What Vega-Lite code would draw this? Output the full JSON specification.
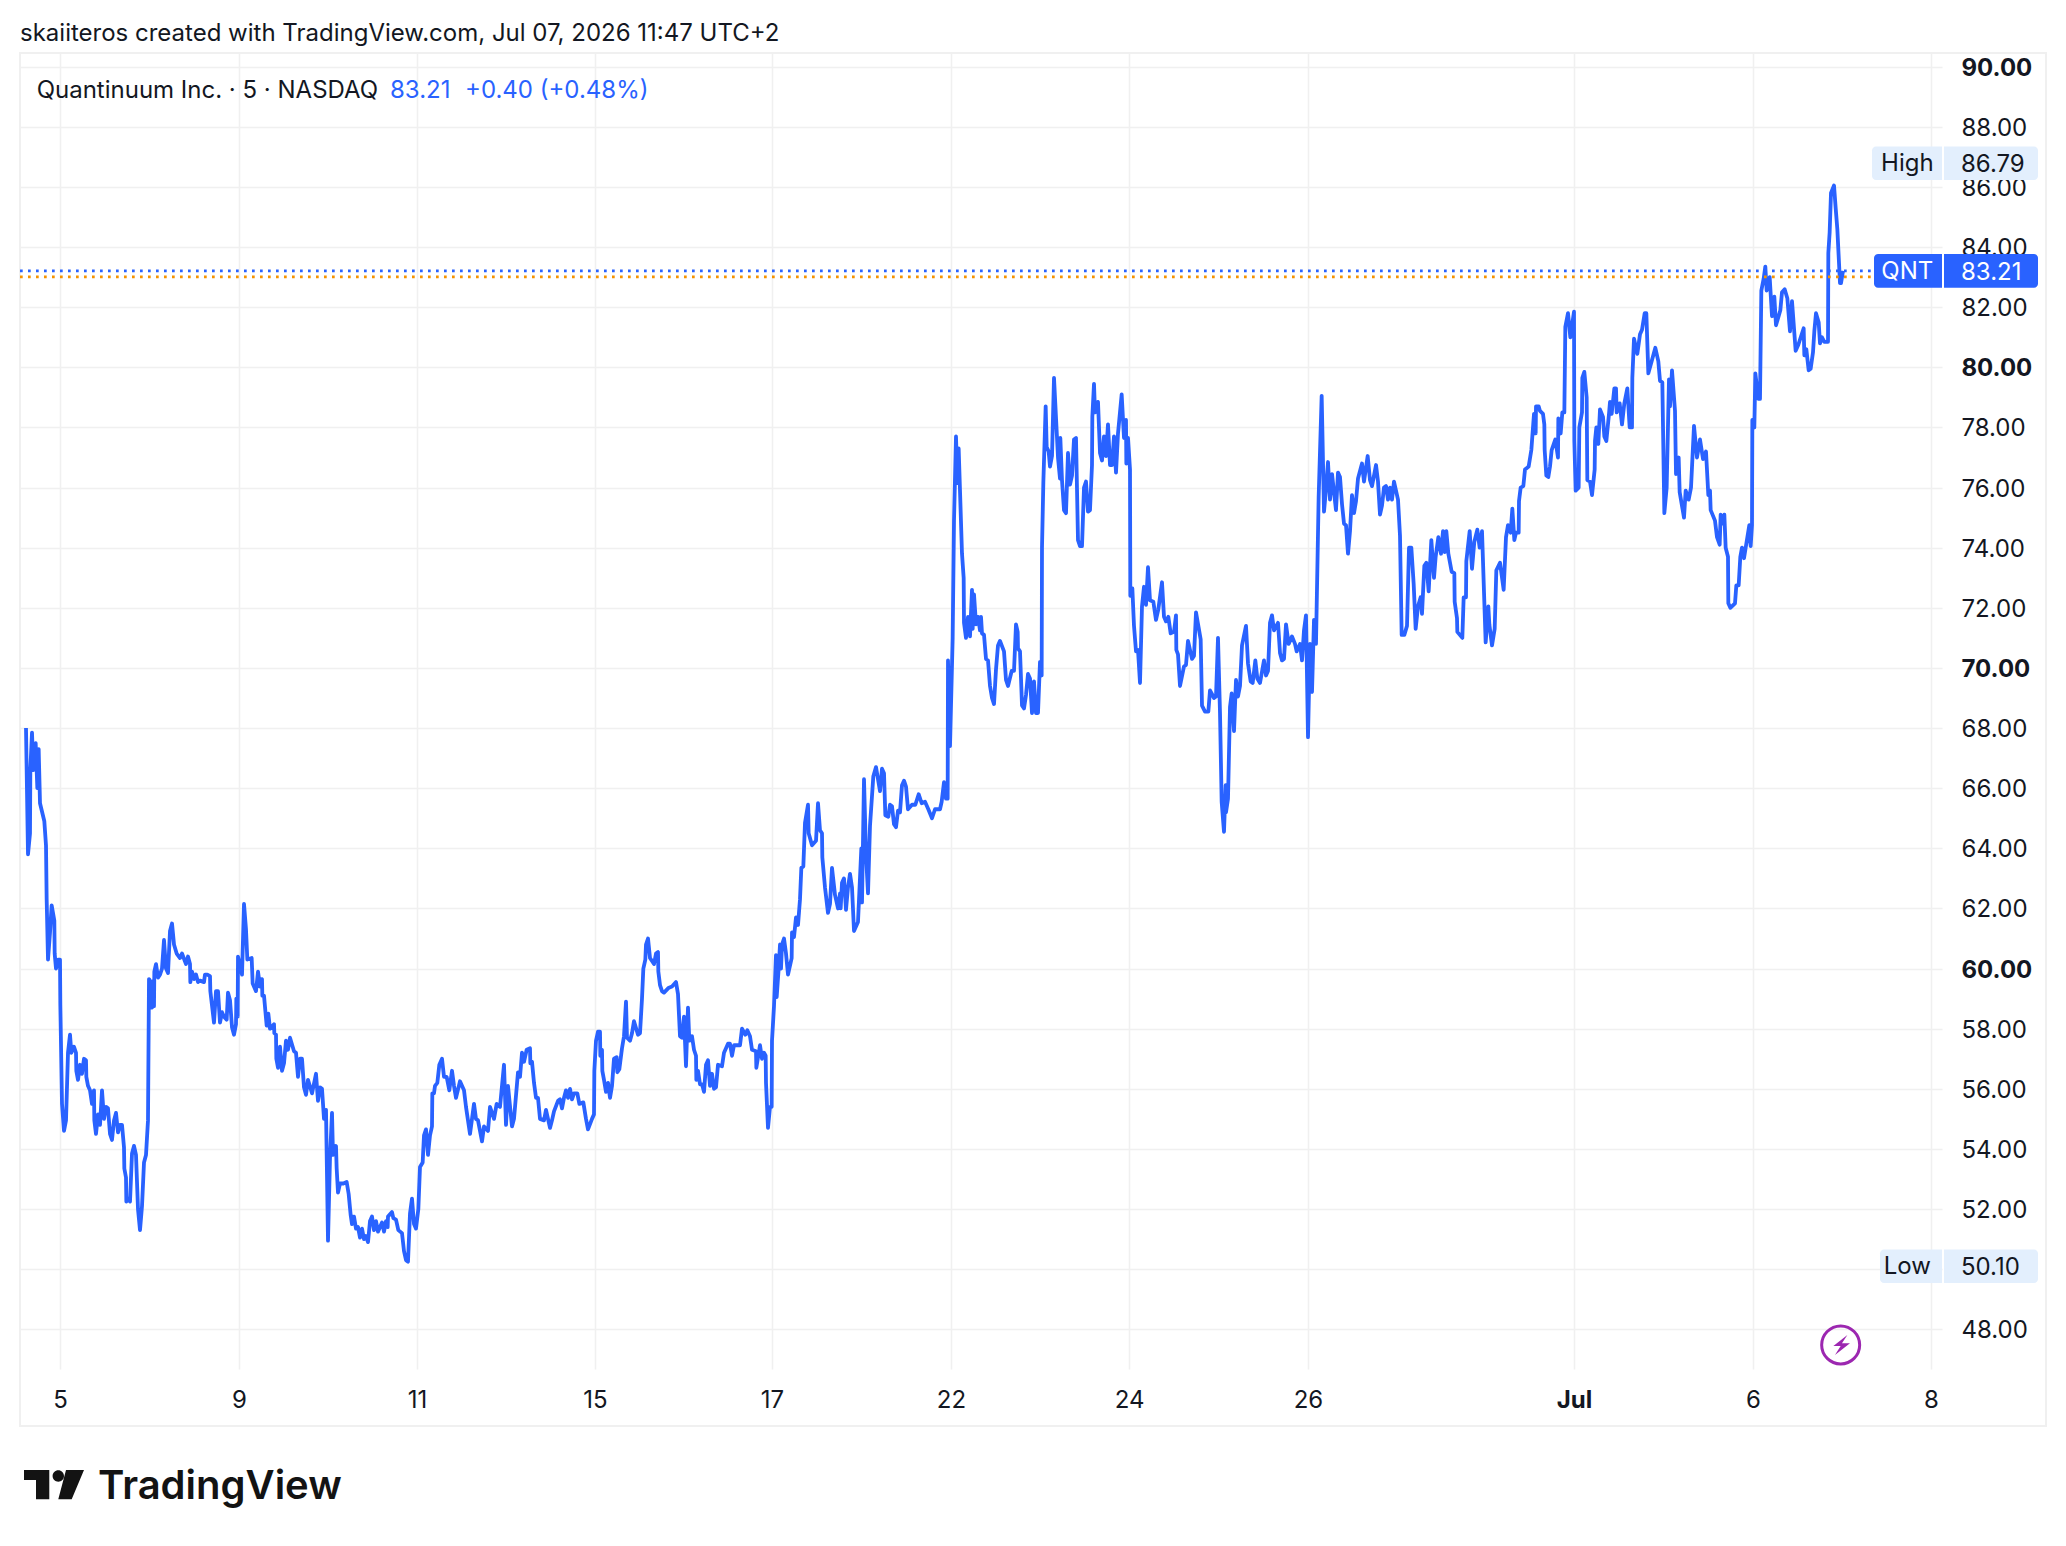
{
  "$schema": "https://vega.github.io/schema/vega-lite/v6.json",
  "width": 1922,
  "height": 1316,
  "autosize": {"type": "none"},
  "padding": {"left": 20, "top": 53, "right": 124, "bottom": 177},
  "background": "#ffffff",
  "view": {"stroke": null},
  "title": {
    "text": "skaiiteros created with TradingView.com, Jul 07, 2026 11:47 UTC+2",
    "anchor": "start",
    "frame": "group",
    "offset": 6,
    "font": "Inter",
    "fontSize": 24,
    "fontWeight": "normal",
    "color": "#131722"
  },
  "datasets": {
    "tags": [
      {"tag": "High", "price": 86.79},
      {"tag": "QNT", "price": 83.21},
      {"tag": "Low", "price": 50.10}
    ],
    "levels": [
      {"level": "last", "price": 83.21},
      {"level": "prev", "price": 83.01}
    ],
    "prices": [
      {"t":78,"price":68},{"t":84,"price":63.8},{"t":90,"price":64.5},{"t":91,"price":66.6},{"t":96,"price":67.85},{"t":100,"price":66.6},{"t":107,"price":67.5},{"t":112,"price":66},{"t":116,"price":67.3},{"t":120,"price":65.5},{"t":133,"price":64.9},{"t":138,"price":64.1},{"t":140,"price":62.3},{"t":144,"price":60.3},{"t":150,"price":61.2},{"t":155,"price":62.1},{"t":163,"price":61.6},{"t":164,"price":60.5},{"t":168,"price":60},{"t":175,"price":60.3},{"t":180,"price":60.3},{"t":181,"price":58.8},{"t":186,"price":55.5},{"t":192,"price":54.6},{"t":198,"price":54.95},{"t":204,"price":57.2},{"t":210,"price":57.8},{"t":214,"price":57.2},{"t":222,"price":57.4},{"t":228,"price":57.2},{"t":229,"price":56.6},{"t":234,"price":56.3},{"t":240,"price":56.8},{"t":246,"price":56.5},{"t":252,"price":57},{"t":258,"price":56.95},{"t":259,"price":56.4},{"t":264,"price":56.1},{"t":270,"price":55.95},{"t":276,"price":55.5},{"t":282,"price":55.95},{"t":283,"price":54.95},{"t":288,"price":54.5},{"t":294,"price":55.15},{"t":300,"price":54.8},{"t":306,"price":55.95},{"t":312,"price":55},{"t":318,"price":55.4},{"t":324,"price":55.35},{"t":330,"price":54.5},{"t":336,"price":54.3},{"t":342,"price":54.95},{"t":348,"price":55.2},{"t":354,"price":54.55},{"t":360,"price":54.8},{"t":366,"price":54.8},{"t":372,"price":54.05},{"t":373,"price":53.35},{"t":378,"price":53.05},{"t":379,"price":52.25},{"t":384,"price":52.35},{"t":390,"price":52.25},{"t":396,"price":53.85},{"t":402,"price":54.1},{"t":408,"price":53.8},{"t":414,"price":52},{"t":420,"price":51.3},{"t":426,"price":52.1},{"t":432,"price":53.55},{"t":438,"price":53.8},{"t":444,"price":54.95},{"t":447,"price":59.65},{"t":450,"price":59.6},{"t":456,"price":58.7},{"t":461,"price":59.6},{"t":462,"price":58.75},{"t":463,"price":59.9},{"t":468,"price":60.15},{"t":474,"price":59.7},{"t":480,"price":59.8},{"t":486,"price":60},{"t":492,"price":60.95},{"t":498,"price":60},{"t":504,"price":59.85},{"t":510,"price":61.25},{"t":516,"price":61.5},{"t":522,"price":60.8},{"t":530,"price":60.5},{"t":540,"price":60.35},{"t":546,"price":60.5},{"t":558,"price":60.15},{"t":564,"price":60.4},{"t":570,"price":60.15},{"t":571,"price":59.55},{"t":576,"price":59.9},{"t":582,"price":59.65},{"t":588,"price":59.8},{"t":594,"price":59.55},{"t":600,"price":59.6},{"t":612,"price":59.55},{"t":615,"price":59.8},{"t":622,"price":59.8},{"t":630,"price":59.75},{"t":631,"price":59.25},{"t":642,"price":58.2},{"t":648,"price":59.25},{"t":654,"price":59.25},{"t":660,"price":58.2},{"t":666,"price":58.55},{"t":672,"price":58.4},{"t":680,"price":58.3},{"t":684,"price":59.2},{"t":690,"price":58.95},{"t":696,"price":58.05},{"t":702,"price":57.8},{"t":708,"price":58.15},{"t":709,"price":59},{"t":713,"price":58.4},{"t":714,"price":60.4},{"t":726,"price":59.8},{"t":732,"price":62.15},{"t":738,"price":61.3},{"t":742,"price":60.3},{"t":755,"price":60.35},{"t":758,"price":59.5},{"t":768,"price":59.25},{"t":774,"price":59.9},{"t":780,"price":59.4},{"t":786,"price":59.65},{"t":787,"price":59.1},{"t":792,"price":59.1},{"t":800,"price":58.1},{"t":805,"price":58.5},{"t":810,"price":58},{"t":822,"price":58.15},{"t":823,"price":57.85},{"t":828,"price":57.8},{"t":829,"price":57},{"t":834,"price":56.7},{"t":840,"price":57.4},{"t":846,"price":56.6},{"t":852,"price":56.85},{"t":858,"price":57.6},{"t":864,"price":57.3},{"t":870,"price":57.7},{"t":882,"price":57.25},{"t":888,"price":57.2},{"t":894,"price":56.4},{"t":900,"price":57},{"t":906,"price":57},{"t":912,"price":56.05},{"t":918,"price":55.8},{"t":924,"price":56.3},{"t":936,"price":55.85},{"t":948,"price":56.5},{"t":954,"price":55.6},{"t":960,"price":56.05},{"t":966,"price":56},{"t":972,"price":55},{"t":978,"price":55.3},{"t":984,"price":50.95},{"t":990,"price":53.7},{"t":996,"price":55.2},{"t":999,"price":53.8},{"t":1008,"price":54.1},{"t":1010,"price":53.35},{"t":1014,"price":52.55},{"t":1020,"price":52.85},{"t":1030,"price":52.85},{"t":1040,"price":52.9},{"t":1046,"price":52.5},{"t":1052,"price":51.8},{"t":1056,"price":51.5},{"t":1062,"price":51.75},{"t":1068,"price":51.35},{"t":1074,"price":51.4},{"t":1080,"price":51.05},{"t":1086,"price":51.35},{"t":1092,"price":51},{"t":1098,"price":51.1},{"t":1104,"price":50.9},{"t":1110,"price":51.6},{"t":1116,"price":51.75},{"t":1122,"price":51.3},{"t":1128,"price":51.6},{"t":1134,"price":51.25},{"t":1146,"price":51.55},{"t":1152,"price":51.25},{"t":1158,"price":51.6},{"t":1163,"price":51.4},{"t":1164,"price":51.75},{"t":1176,"price":51.9},{"t":1180,"price":51.7},{"t":1188,"price":51.65},{"t":1195,"price":51.3},{"t":1206,"price":51.2},{"t":1212,"price":50.6},{"t":1218,"price":50.3},{"t":1224,"price":50.25},{"t":1230,"price":51.85},{"t":1236,"price":52.35},{"t":1242,"price":51.5},{"t":1248,"price":51.35},{"t":1255,"price":52},{"t":1260,"price":53.4},{"t":1268,"price":53.55},{"t":1272,"price":54.45},{"t":1278,"price":54.65},{"t":1284,"price":53.8},{"t":1290,"price":54.45},{"t":1296,"price":54.75},{"t":1297,"price":55.85},{"t":1302,"price":55.85},{"t":1305,"price":56.1},{"t":1312,"price":56.2},{"t":1318,"price":56.8},{"t":1326,"price":57},{"t":1332,"price":56.4},{"t":1340,"price":56.4},{"t":1348,"price":55.95},{"t":1356,"price":56.6},{"t":1362,"price":56.1},{"t":1368,"price":55.7},{"t":1380,"price":56.25},{"t":1392,"price":55.95},{"t":1398,"price":55.4},{"t":1410,"price":54.5},{"t":1422,"price":55.5},{"t":1428,"price":55},{"t":1434,"price":54.95},{"t":1446,"price":54.25},{"t":1452,"price":54.75},{"t":1464,"price":54.6},{"t":1470,"price":55.4},{"t":1482,"price":55},{"t":1490,"price":55.5},{"t":1500,"price":55.4},
      {"t":1512,"price":56.8},{"t":1518,"price":54.8},{"t":1524,"price":56.1},{"t":1536,"price":54.75},{"t":1542,"price":55},{"t":1554,"price":56.55},{"t":1560,"price":56.4},{"t":1566,"price":57.2},{"t":1572,"price":56.9},{"t":1580,"price":57.3},{"t":1590,"price":57.35},{"t":1591,"price":56.85},{"t":1596,"price":56.9},{"t":1602,"price":56.2},{"t":1608,"price":55.7},{"t":1614,"price":55.7},{"t":1620,"price":55},{"t":1632,"price":54.95},{"t":1638,"price":55.3},{"t":1644,"price":55},{"t":1650,"price":54.7},{"t":1656,"price":54.95},{"t":1662,"price":55.25},{"t":1674,"price":55.6},{"t":1680,"price":55.65},{"t":1686,"price":55.35},{"t":1692,"price":55.7},{"t":1698,"price":55.95},{"t":1704,"price":55.7},{"t":1710,"price":56},{"t":1716,"price":55.65},{"t":1722,"price":55.85},{"t":1732,"price":55.85},{"t":1738,"price":55.5},{"t":1750,"price":55.55},{"t":1758,"price":55},{"t":1764,"price":54.65},{"t":1776,"price":55},{"t":1782,"price":55.15},{"t":1783,"price":56.6},{"t":1788,"price":57.6},{"t":1794,"price":57.9},{"t":1800,"price":57.9},{"t":1801,"price":57.1},{"t":1806,"price":57.3},{"t":1807,"price":56.6},{"t":1812,"price":56.3},{"t":1818,"price":55.9},{"t":1824,"price":56.2},{"t":1830,"price":55.7},{"t":1836,"price":56.1},{"t":1842,"price":57},{"t":1850,"price":57.05},{"t":1852,"price":56.55},{"t":1858,"price":56.65},{"t":1866,"price":57.35},{"t":1872,"price":57.75},{"t":1878,"price":58.9},{"t":1881,"price":57.7},{"t":1890,"price":57.6},{"t":1896,"price":57.85},{"t":1902,"price":58.25},{"t":1914,"price":57.8},{"t":1920,"price":57.85},{"t":1926,"price":59},{"t":1930,"price":60},{"t":1936,"price":60.3},{"t":1938,"price":60.8},{"t":1944,"price":61},{"t":1950,"price":60.35},{"t":1962,"price":60.15},{"t":1968,"price":60.5},{"t":1974,"price":60.55},{"t":1975,"price":59.9},{"t":1980,"price":59.45},{"t":1986,"price":59.25},{"t":1992,"price":59.2},{"t":2005,"price":59.35},{"t":2016,"price":59.4},{"t":2028,"price":59.55},{"t":2034,"price":59.15},{"t":2040,"price":57.75},{"t":2046,"price":57.7},{"t":2052,"price":58.4},{"t":2058,"price":56.75},{"t":2064,"price":58.7},{"t":2068,"price":57.6},{"t":2076,"price":57.75},{"t":2082,"price":57.3},{"t":2088,"price":57.1},{"t":2089,"price":56.3},{"t":2094,"price":56.6},{"t":2100,"price":56.15},{"t":2106,"price":56.15},{"t":2112,"price":55.9},{"t":2118,"price":56.8},{"t":2124,"price":56.95},{"t":2130,"price":56.1},{"t":2136,"price":56.5},{"t":2142,"price":56},{"t":2148,"price":56.05},{"t":2154,"price":56.8},{"t":2166,"price":56.75},{"t":2172,"price":57.2},{"t":2184,"price":57.5},{"t":2190,"price":57.5},{"t":2196,"price":57.1},{"t":2202,"price":57.45},{"t":2220,"price":57.45},{"t":2226,"price":58},{"t":2236,"price":57.8},{"t":2242,"price":57.95},{"t":2250,"price":57.75},{"t":2256,"price":57.3},{"t":2268,"price":57.25},{"t":2269,"price":56.7},{"t":2280,"price":57.45},{"t":2286,"price":57},{"t":2292,"price":57.2},{"t":2297,"price":57.1},{"t":2298,"price":56.2},{"t":2304,"price":54.7},{"t":2310,"price":55.4},{"t":2315,"price":55.4},{"t":2316,"price":57.6},{"t":2322,"price":58.75},{"t":2328,"price":60.45},{"t":2330,"price":59.05},{"t":2336,"price":60},{"t":2340,"price":60.8},{"t":2343,"price":60},{"t":2346,"price":60.8},{"t":2352,"price":61},{"t":2358,"price":60.5},{"t":2364,"price":59.8},{"t":2375,"price":60.35},{"t":2376,"price":61.2},{"t":2382,"price":61.05},{"t":2388,"price":61.7},{"t":2394,"price":61.45},{"t":2400,"price":62.3},{"t":2404,"price":63.35},{"t":2410,"price":63.4},{"t":2415,"price":64.85},{"t":2424,"price":65.45},{"t":2426,"price":64.5},{"t":2436,"price":64.1},{"t":2448,"price":64.25},{"t":2454,"price":65.5},{"t":2460,"price":64.6},{"t":2466,"price":64.5},{"t":2467,"price":63.7},{"t":2475,"price":62.7},{"t":2484,"price":61.85},{"t":2490,"price":62.15},{"t":2496,"price":63.35},{"t":2505,"price":62.45},{"t":2514,"price":62},{"t":2520,"price":62.5},{"t":2522,"price":62},{"t":2526,"price":62.85},{"t":2532,"price":63},{"t":2538,"price":61.95},{"t":2544,"price":62.7},{"t":2550,"price":63.15},{"t":2556,"price":62.7},{"t":2562,"price":61.25},{"t":2574,"price":61.55},{"t":2584,"price":64},{"t":2586,"price":62.2},{"t":2592,"price":66.3},{"t":2598,"price":63.8},{"t":2604,"price":62.5},{"t":2610,"price":64.75},{"t":2620,"price":66.4},{"t":2628,"price":66.7},{"t":2640,"price":65.9},{"t":2646,"price":66.65},{"t":2652,"price":66.5},{"t":2656,"price":65.1},{"t":2665,"price":65.05},{"t":2670,"price":65.45},{"t":2676,"price":65.4},{"t":2682,"price":64.8},{"t":2688,"price":64.7},{"t":2694,"price":65.25},{"t":2700,"price":65.2},{"t":2706,"price":66.1},{"t":2712,"price":66.25},{"t":2718,"price":66.05},{"t":2724,"price":65.3},{"t":2736,"price":65.45},{"t":2746,"price":65.45},{"t":2756,"price":65.8},{"t":2765,"price":65.5},{"t":2775,"price":65.55},{"t":2785,"price":65.3},{"t":2796,"price":65},{"t":2805,"price":65.3},{"t":2820,"price":65.3},{"t":2825,"price":65.55},{"t":2832,"price":66.2},
      {"t":2838,"price":65.65},{"t":2843,"price":65.65},{"t":2844,"price":70.25},{"t":2850,"price":67.4},{"t":2858,"price":71},{"t":2862,"price":74.9},{"t":2868,"price":77.7},{"t":2872,"price":76.15},{"t":2876,"price":77.3},{"t":2886,"price":73.8},{"t":2891,"price":73},{"t":2892,"price":71.5},{"t":2898,"price":71},{"t":2904,"price":71.7},{"t":2910,"price":71.05},{"t":2916,"price":72.6},{"t":2918,"price":71.3},{"t":2922,"price":72.45},{"t":2928,"price":71.45},{"t":2934,"price":71.7},{"t":2940,"price":71.25},{"t":2943,"price":71.7},{"t":2946,"price":71.15},{"t":2952,"price":71.1},{"t":2958,"price":70.3},{"t":2964,"price":70.25},{"t":2970,"price":69.4},{"t":2976,"price":69},{"t":2982,"price":68.8},{"t":2988,"price":69.95},{"t":2994,"price":70.75},{"t":3000,"price":70.9},{"t":3012,"price":70.55},{"t":3018,"price":69.6},{"t":3024,"price":69.4},{"t":3035,"price":69.9},{"t":3042,"price":69.9},{"t":3048,"price":71.45},{"t":3053,"price":71.2},{"t":3054,"price":70.65},{"t":3060,"price":70.55},{"t":3066,"price":68.75},{"t":3072,"price":68.65},{"t":3078,"price":69.1},{"t":3084,"price":69.8},{"t":3090,"price":69.65},{"t":3096,"price":68.5},{"t":3102,"price":69.55},{"t":3108,"price":68.5},{"t":3114,"price":68.5},{"t":3120,"price":70.2},{"t":3125,"price":69.75},{"t":3126,"price":74},{"t":3130,"price":76.15},{"t":3137,"price":78.7},{"t":3140,"price":77.35},{"t":3146,"price":77.2},{"t":3150,"price":76.7},{"t":3156,"price":77.05},{"t":3162,"price":79.65},{"t":3174,"price":77},{"t":3180,"price":76.3},{"t":3181,"price":77.65},{"t":3186,"price":76.25},{"t":3192,"price":75.25},{"t":3198,"price":75.15},{"t":3204,"price":77.15},{"t":3210,"price":76.1},{"t":3216,"price":76.4},{"t":3222,"price":77.6},{"t":3228,"price":77.65},{"t":3234,"price":74.25},{"t":3240,"price":74.05},{"t":3246,"price":74.05},{"t":3252,"price":76},{"t":3258,"price":76.2},{"t":3264,"price":75.2},{"t":3270,"price":75.25},{"t":3276,"price":76.75},{"t":3277,"price":78.35},{"t":3282,"price":79.45},{"t":3285,"price":78.5},{"t":3294,"price":78.85},{"t":3300,"price":77.15},{"t":3306,"price":76.9},{"t":3312,"price":77.7},{"t":3318,"price":77.05},{"t":3324,"price":78.1},{"t":3330,"price":76.75},{"t":3336,"price":76.75},{"t":3342,"price":77.7},{"t":3348,"price":76.5},{"t":3354,"price":77.8},{"t":3365,"price":79.1},{"t":3372,"price":77.65},{"t":3378,"price":78.25},{"t":3379,"price":76.8},{"t":3384,"price":77.65},{"t":3390,"price":76.6},{"t":3391,"price":72.4},{"t":3397,"price":72.65},{"t":3402,"price":71.4},{"t":3408,"price":70.55},{"t":3414,"price":70.6},{"t":3420,"price":69.5},{"t":3426,"price":72.05},{"t":3432,"price":72.7},{"t":3438,"price":72.1},{"t":3444,"price":73.35},{"t":3450,"price":72.25},{"t":3460,"price":72.2},{"t":3468,"price":71.6},{"t":3475,"price":71.95},{"t":3486,"price":72.85},{"t":3492,"price":71.7},{"t":3498,"price":71.55},{"t":3505,"price":71.7},{"t":3512,"price":71.15},{"t":3522,"price":71.2},{"t":3528,"price":71.75},{"t":3529,"price":70.6},{"t":3534,"price":70.45},{"t":3540,"price":69.4},{"t":3552,"price":70.05},{"t":3558,"price":70.1},{"t":3564,"price":70.9},{"t":3576,"price":70.3},{"t":3582,"price":70.4},{"t":3588,"price":71.85},{"t":3595,"price":71.4},{"t":3602,"price":70.95},{"t":3606,"price":68.75},{"t":3615,"price":68.55},{"t":3625,"price":68.55},{"t":3630,"price":69.25},{"t":3642,"price":69},{"t":3648,"price":69.05},{"t":3654,"price":71},{"t":3660,"price":68.5},{"t":3665,"price":65.55},{"t":3672,"price":64.55},{"t":3677,"price":66.1},{"t":3678,"price":65.2},{"t":3684,"price":65.65},{"t":3690,"price":68.7},{"t":3695,"price":69.15},{"t":3702,"price":67.9},{"t":3708,"price":69.6},{"t":3714,"price":69.05},{"t":3720,"price":69.4},{"t":3726,"price":70.75},{"t":3738,"price":71.4},{"t":3744,"price":70.15},{"t":3752,"price":69.55},{"t":3758,"price":69.5},{"t":3766,"price":70.25},{"t":3772,"price":69.65},{"t":3780,"price":69.5},{"t":3792,"price":70.25},{"t":3798,"price":69.75},{"t":3804,"price":69.9},{"t":3810,"price":71.5},{"t":3816,"price":71.75},{"t":3822,"price":71.25},{"t":3834,"price":71.5},{"t":3840,"price":70.5},{"t":3846,"price":70.25},{"t":3852,"price":70.3},{"t":3858,"price":71.45},{"t":3866,"price":70.8},{"t":3876,"price":71.05},{"t":3885,"price":70.8},{"t":3890,"price":70.55},{"t":3900,"price":70.8},{"t":3906,"price":70.25},{"t":3912,"price":71.25},{"t":3918,"price":71.75},{"t":3924,"price":67.7},{"t":3930,"price":70.8},{"t":3936,"price":69.2},{"t":3942,"price":71.6},{"t":3948,"price":70.8},{"t":3956,"price":75.7},{"t":3965,"price":79.05},{"t":3972,"price":75.2},{"t":3978,"price":75.95},{"t":3984,"price":76.85},{"t":3990,"price":75.6},{"t":3996,"price":76.45},{"t":4008,"price":75.25},{"t":4014,"price":76.5},{"t":4020,"price":76.35},{"t":4026,"price":75.45},{"t":4032,"price":74.8},{"t":4038,"price":74.75},{"t":4044,"price":73.8},{"t":4050,"price":74.55},{"t":4056,"price":75.75},{"t":4062,"price":75.15},{"t":4068,"price":75.55},{"t":4074,"price":76.3},{"t":4086,"price":76.8},{"t":4092,"price":76.2},{"t":4103,"price":77.05},{"t":4110,"price":76.25},{"t":4116,"price":76.05},{"t":4128,"price":76.75},{"t":4134,"price":76.2},{"t":4140,"price":75.1},{"t":4146,"price":75.4},{"t":4152,"price":76},{"t":4158,"price":76.05},{"t":4164,"price":75.6},{"t":4170,"price":76},{"t":4176,"price":75.6},{"t":4182,"price":76.2},{"t":4194,"price":75.6},{"t":4200,"price":74.4},
      {"t":4205,"price":71.1},{"t":4213,"price":71.1},{"t":4221,"price":71.4},{"t":4227,"price":74},{"t":4234,"price":74},{"t":4241,"price":72.8},{"t":4247,"price":71.3},{"t":4254,"price":72.05},{"t":4262,"price":72.35},{"t":4266,"price":71.8},{"t":4273,"price":73.4},{"t":4279,"price":73.5},{"t":4286,"price":72.55},{"t":4294,"price":74.25},{"t":4302,"price":73},{"t":4307,"price":73.7},{"t":4315,"price":74.35},{"t":4323,"price":73.8},{"t":4329,"price":74.55},{"t":4334,"price":73.85},{"t":4339,"price":74.55},{"t":4345,"price":73.8},{"t":4355,"price":73.2},{"t":4363,"price":73.15},{"t":4364,"price":72.2},{"t":4371,"price":71.65},{"t":4372,"price":71.2},{"t":4387,"price":71},{"t":4391,"price":72.35},{"t":4398,"price":72.35},{"t":4399,"price":73.55},{"t":4409,"price":74.55},{"t":4416,"price":73.3},{"t":4423,"price":74.2},{"t":4432,"price":74.6},{"t":4439,"price":74},{"t":4446,"price":74.55},{"t":4457,"price":70.85},{"t":4465,"price":72.05},{"t":4468,"price":71.45},{"t":4476,"price":70.75},{"t":4484,"price":71.3},{"t":4489,"price":73.25},{"t":4500,"price":73.5},{"t":4511,"price":72.6},{"t":4518,"price":74.35},{"t":4524,"price":74.75},{"t":4532,"price":74.5},{"t":4537,"price":75.3},{"t":4543,"price":74.25},{"t":4548,"price":74.5},{"t":4556,"price":74.5},{"t":4557,"price":75.55},{"t":4562,"price":76},{"t":4570,"price":76.05},{"t":4575,"price":76.6},{"t":4586,"price":76.7},{"t":4594,"price":77.25},{"t":4602,"price":78.45},{"t":4607,"price":77.8},{"t":4608,"price":78.7},{"t":4616,"price":78.7},{"t":4620,"price":78.55},{"t":4629,"price":78.45},{"t":4633,"price":78.1},{"t":4634,"price":77.25},{"t":4639,"price":76.4},{"t":4645,"price":76.35},{"t":4650,"price":76.7},{"t":4655,"price":77.25},{"t":4666,"price":77.6},{"t":4674,"price":77},{"t":4675,"price":78.3},{"t":4682,"price":77.8},{"t":4687,"price":78.5},{"t":4693,"price":78.5},{"t":4696,"price":81.35},{"t":4704,"price":81.8},{"t":4711,"price":81},{"t":4722,"price":81.85},{"t":4723,"price":77.55},{"t":4727,"price":75.9},{"t":4736,"price":76},{"t":4738,"price":78},{"t":4746,"price":78.5},{"t":4747,"price":79.65},{"t":4753,"price":79.85},{"t":4760,"price":79},{"t":4762,"price":76.25},{"t":4770,"price":76.2},{"t":4776,"price":75.75},{"t":4784,"price":76.6},{"t":4785,"price":77.55},{"t":4789,"price":78},{"t":4795,"price":77.45},{"t":4800,"price":78.6},{"t":4809,"price":78.35},{"t":4813,"price":77.7},{"t":4819,"price":77.55},{"t":4827,"price":78.45},{"t":4830,"price":78.85},{"t":4835,"price":78.45},{"t":4843,"price":79.3},{"t":4848,"price":79.3},{"t":4850,"price":78.5},{"t":4859,"price":78.8},{"t":4866,"price":78.1},{"t":4873,"price":78.8},{"t":4882,"price":79.3},{"t":4889,"price":78},{"t":4896,"price":78},{"t":4897,"price":79.65},{"t":4902,"price":80.95},{"t":4912,"price":80.45},{"t":4920,"price":81.1},{"t":4926,"price":81.25},{"t":4934,"price":81.8},{"t":4939,"price":81.8},{"t":4945,"price":79.8},{"t":4955,"price":80.2},{"t":4966,"price":80.65},{"t":4975,"price":80.2},{"t":4980,"price":79.55},{"t":4987,"price":79.5},{"t":4993,"price":75.15},{"t":5000,"price":76},{"t":5007,"price":79.6},{"t":5010,"price":78.7},{"t":5016,"price":79.9},{"t":5025,"price":78.55},{"t":5028,"price":76.45},{"t":5036,"price":77},{"t":5039,"price":75.85},{"t":5052,"price":75},{"t":5057,"price":75.9},{"t":5066,"price":75.6},{"t":5073,"price":76},{"t":5082,"price":78.05},{"t":5091,"price":77},{"t":5100,"price":77.6},{"t":5109,"price":76.95},{"t":5118,"price":77.2},{"t":5125,"price":75.75},{"t":5130,"price":75.9},{"t":5132,"price":75.25},{"t":5145,"price":74.9},{"t":5151,"price":74.35},{"t":5159,"price":74.1},{"t":5162,"price":75.1},{"t":5166,"price":74.8},{"t":5173,"price":75.1},{"t":5177,"price":74},{"t":5184,"price":73.7},{"t":5185,"price":72.15},{"t":5191,"price":72},{"t":5205,"price":72.15},{"t":5209,"price":72.75},{"t":5216,"price":72.75},{"t":5221,"price":73.7},{"t":5226,"price":74},{"t":5232,"price":73.65},{"t":5237,"price":74},{"t":5248,"price":74.75},{"t":5252,"price":74.05},{"t":5256,"price":74.75},{"t":5257,"price":78.25},{"t":5263,"price":78},{"t":5266,"price":79.8},{"t":5275,"price":78.95},{"t":5280,"price":78.95},{"t":5284,"price":82.55},{"t":5291,"price":82.95},{"t":5296,"price":83.35},{"t":5300,"price":82.55},{"t":5309,"price":83},{"t":5316,"price":81.7},{"t":5323,"price":82.35},{"t":5328,"price":81.4},{"t":5341,"price":81.9},{"t":5346,"price":82.5},{"t":5354,"price":82.6},{"t":5362,"price":82.3},{"t":5370,"price":81.2},{"t":5376,"price":82.2},{"t":5387,"price":80.55},{"t":5395,"price":80.75},{"t":5411,"price":81.3},{"t":5413,"price":80.4},{"t":5419,"price":80.6},{"t":5426,"price":79.9},{"t":5432,"price":79.95},{"t":5439,"price":80.5},{"t":5443,"price":81.2},{"t":5448,"price":81.8},{"t":5456,"price":81.5},{"t":5460,"price":80.8},{"t":5466,"price":81},{"t":5473,"price":80.85},{"t":5484,"price":80.85},{"t":5485,"price":83.8},{"t":5489,"price":84.5},{"t":5493,"price":85.8},{"t":5502,"price":86.05},{"t":5507,"price":85.3},{"t":5512,"price":84.6},{"t":5520,"price":82.8},{"t":5523,"price":82.8},{"t":5529,"price":83.21}
    ]
  },
  "layer": [
    {
      "data": {"name": "prices"},
      "mark": {"type": "line", "color": "#2962ff", "strokeWidth": 3.8, "strokeJoin": "round", "clip": true},
      "encoding": {
        "x": {
          "field": "t",
          "type": "quantitative",
          "scale": {"domain": [60, 5826], "nice": false, "zero": false},
          "axis": {
            "title": null,
            "values": [180, 717, 1251, 1785, 2316, 2853, 3387, 3924, 4722, 5259, 5793],
            "labelExpr": "{'180':'5','717':'9','1251':'11','1785':'15','2316':'17','2853':'22','3387':'24','3924':'26','4722':'Jul','5259':'6','5793':'8'}[datum.value]",
            "labelFontWeight": {"condition": {"test": "datum.value == 4722", "value": "bold"}, "value": "normal"},
            "labelFont": "Inter",
            "labelFontSize": 24,
            "labelColor": "#131722",
            "labelPadding": 19,
            "labelOverlap": false,
            "domain": false,
            "ticks": false,
            "grid": true,
            "gridColor": "#f0f0f0",
            "gridWidth": 1.6
          }
        },
        "y": {
          "field": "price",
          "type": "quantitative",
          "scale": {"domain": [46.68, 90.456], "nice": false, "zero": false},
          "axis": {
            "title": null,
            "orient": "right",
            "values": [48, 50, 52, 54, 56, 58, 60, 62, 64, 66, 68, 70, 72, 74, 76, 78, 80, 82, 84, 86, 88, 90],
            "labelExpr": "datum.value == 50 ? '' : format(datum.value, '.2f')",
            "labelFontWeight": {"condition": {"test": "datum.value % 10 == 0", "value": "bold"}, "value": "normal"},
            "labelFont": "Inter",
            "labelFontSize": 24,
            "labelColor": "#131722",
            "labelPadding": 19,
            "labelOffset": 1.5,
            "labelOverlap": false,
            "domain": false,
            "ticks": false,
            "grid": true,
            "gridColor": "#f0f0f0",
            "gridWidth": 1.6
          }
        }
      }
    },
    {
      "data": {"values": [{"frame": "chart"}]},
      "mark": {"type": "rect", "fill": null, "stroke": "#f0f0f0", "strokeWidth": 2},
      "encoding": {
        "x": {"datum": 60, "type": "quantitative"},
        "x2": {"datum": 6138},
        "y": {"datum": 90.456, "type": "quantitative"},
        "y2": {"datum": 44.78}
      }
    },
    {
      "data": {"name": "levels"},
      "mark": {"type": "rule", "strokeWidth": 2.7, "strokeDash": [2.7, 5.3]},
      "encoding": {
        "x": {"datum": 60, "type": "quantitative"},
        "x2": {"datum": 5613},
        "y": {"field": "price", "type": "quantitative"},
        "color": {"condition": {"test": "datum.level === 'last'", "value": "#2962ff"}, "value": "#f59300"}
      }
    },
    {
      "data": {"name": "tags"},
      "transform": [{"filter": "datum.tag === 'High'"}],
      "mark": {"type": "rect", "height": 33.6, "fill": "#e3effd", "cornerRadiusTopLeft": 4, "cornerRadiusBottomLeft": 4},
      "encoding": {
        "x": {"datum": 5616, "type": "quantitative"},
        "x2": {"datum": 5826},
        "y": {"field": "price", "type": "quantitative"}
      }
    },
    {
      "data": {"name": "tags"},
      "transform": [{"filter": "datum.tag === 'Low'"}],
      "mark": {"type": "rect", "height": 33.6, "fill": "#e3effd", "cornerRadiusTopLeft": 4, "cornerRadiusBottomLeft": 4},
      "encoding": {
        "x": {"datum": 5640, "type": "quantitative"},
        "x2": {"datum": 5826},
        "y": {"field": "price", "type": "quantitative"}
      }
    },
    {
      "data": {"name": "tags"},
      "transform": [{"filter": "datum.tag === 'QNT'"}],
      "mark": {"type": "rect", "height": 33.6, "fill": "#2962ff", "cornerRadiusTopLeft": 4, "cornerRadiusBottomLeft": 4},
      "encoding": {
        "x": {"datum": 5622, "type": "quantitative"},
        "x2": {"datum": 5826},
        "y": {"field": "price", "type": "quantitative"}
      }
    },
    {
      "data": {"name": "tags"},
      "mark": {"type": "rect", "height": 33.6, "cornerRadiusTopRight": 4, "cornerRadiusBottomRight": 4},
      "encoding": {
        "x": {"datum": 5832, "type": "quantitative"},
        "x2": {"datum": 6114},
        "y": {"field": "price", "type": "quantitative"},
        "color": {"condition": {"test": "datum.tag === 'QNT'", "value": "#2962ff"}, "value": "#e3effd"}
      }
    },
    {
      "data": {"name": "tags"},
      "mark": {"type": "text", "font": "Inter", "fontSize": 24, "align": "center", "baseline": "middle", "dy": 1},
      "encoding": {
        "x": {"datum": 5722, "type": "quantitative"},
        "y": {"field": "price", "type": "quantitative"},
        "text": {"field": "tag"},
        "color": {"condition": {"test": "datum.tag === 'QNT'", "value": "#ffffff"}, "value": "#131722"}
      }
    },
    {
      "data": {"name": "tags"},
      "mark": {"type": "text", "font": "Inter", "fontSize": 24, "align": "left", "baseline": "middle", "dy": 2},
      "encoding": {
        "x": {"datum": 5883, "type": "quantitative"},
        "y": {"field": "price", "type": "quantitative"},
        "text": {"field": "price", "format": ".2f"},
        "color": {"condition": {"test": "datum.tag === 'QNT'", "value": "#ffffff"}, "value": "#131722"}
      }
    },
    {
      "data": {"values": [{"label": "Quantinuum Inc. · 5 · NASDAQ"}]},
      "mark": {"type": "text", "font": "Inter", "fontSize": 24, "align": "left", "baseline": "alphabetic", "color": "#131722"},
      "encoding": {
        "x": {"datum": 110, "type": "quantitative"},
        "y": {"datum": 88.96, "type": "quantitative"},
        "text": {"field": "label"}
      }
    },
    {
      "data": {"values": [{"label": "83.21"}]},
      "mark": {"type": "text", "font": "Inter", "fontSize": 24, "align": "left", "baseline": "alphabetic", "color": "#2962ff"},
      "encoding": {
        "x": {"datum": 1170, "type": "quantitative"},
        "y": {"datum": 88.96, "type": "quantitative"},
        "text": {"field": "label"}
      }
    },
    {
      "data": {"values": [{"label": "+0.40 (+0.48%)"}]},
      "mark": {"type": "text", "font": "Inter", "fontSize": 24, "align": "left", "baseline": "alphabetic", "color": "#2962ff"},
      "encoding": {
        "x": {"datum": 1395, "type": "quantitative"},
        "y": {"datum": 88.96, "type": "quantitative"},
        "text": {"field": "label"}
      }
    },
    {
      "data": {"values": [{"icon": "alert ring"}]},
      "mark": {"type": "point", "shape": "circle", "filled": false, "size": 1444, "stroke": "#9c27b0", "strokeWidth": 3, "opacity": 1},
      "encoding": {
        "x": {"datum": 5522, "type": "quantitative"},
        "y": {"datum": 47.48, "type": "quantitative"}
      }
    },
    {
      "data": {"values": [{"icon": "alert bolt"}]},
      "mark": {"type": "point", "shape": "M0.67,-1 L-0.73,0.1 L0,0.1 L-0.57,1 L0.93,-0.17 L0.13,-0.17 Z", "filled": true, "size": 400, "fill": "#9c27b0", "opacity": 1},
      "encoding": {
        "x": {"datum": 5522, "type": "quantitative"},
        "y": {"datum": 47.48, "type": "quantitative"}
      }
    },
    {
      "data": {"values": [{"icon": "logo"}]},
      "mark": {"type": "point", "shape": "M-1,-0.5 L-0.157,-0.5 L-0.157,0.477 L-0.6,0.477 L-0.6,-0.167 L-1,-0.167 Z M-0.047,-0.3 A0.19,0.19 0 1 0 0.333,-0.3 A0.19,0.19 0 1 0 -0.047,-0.3 Z M0.4,-0.5 L1,-0.5 L0.59,0.477 L0.143,0.477 Z", "filled": true, "size": 3600, "fill": "#131313", "opacity": 1},
      "encoding": {
        "x": {"datum": 162, "type": "quantitative"},
        "y": {"datum": 42.82, "type": "quantitative"}
      }
    },
    {
      "data": {"values": [{"label": "TradingView"}]},
      "mark": {"type": "text", "font": "Inter", "fontSize": 40, "fontWeight": 600, "align": "left", "baseline": "alphabetic", "color": "#131313"},
      "encoding": {
        "x": {"datum": 294, "type": "quantitative"},
        "y": {"datum": 42.35, "type": "quantitative"},
        "text": {"field": "label"}
      }
    }
  ]
}
